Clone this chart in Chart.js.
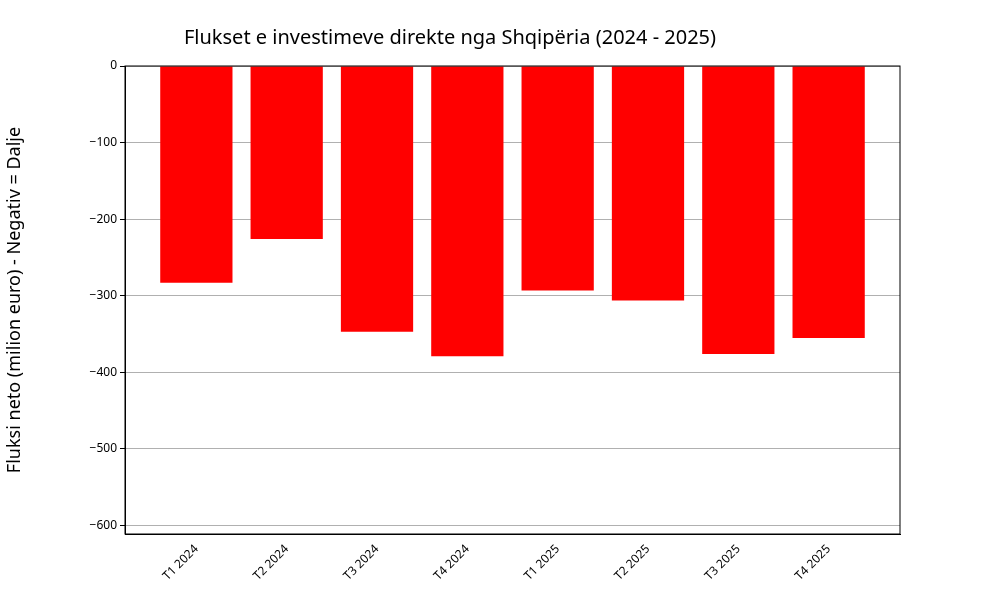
<!DOCTYPE html>
<html>
<head>
<meta charset="utf-8">
<script src="https://cdn.jsdelivr.net/npm/chart.js@4.4.0/dist/chart.umd.min.js"></script>
<style>
  body { margin: 0; background: #fff; }
</style>
</head>
<body>
<canvas id="fdiChart" width="1000" height="600"></canvas>
<script>
    const labels = ['T1 2024', 'T2 2024', 'T3 2024', 'T4 2024', 'T1 2025', 'T2 2025', 'T3 2025', 'T4 2025'];
    const values = [-283, -226, -347, -379, -293, -306, -376, -355];

    // Frame around the plot area (like the box in the original)
    const boxPlugin = {
        id: 'box',
        afterDraw(chart) {
            const { ctx, chartArea: a } = chart;
            ctx.save();
            ctx.strokeStyle = '#000';
            ctx.lineWidth = 1;
            ctx.strokeRect(a.left, a.top, a.right - a.left, a.bottom - a.top);
            ctx.restore();
        }
    };

    const font = 'Noto Sans';

    new Chart(document.getElementById('fdiChart').getContext('2d'), {
        type: 'bar',
        data: {
            datasets: [{
                data: values.map((v, i) => ({ x: i, y: v })),
                backgroundColor: '#ff0000',
                barPercentage: 0.8,
                categoryPercentage: 1.0
            }]
        },
        options: {
            responsive: false,
            animation: false,
            layout: { padding: { top: 0, right: 100, left: 0, bottom: 0 } },
            plugins: {
                legend: { display: false },
                tooltip: { enabled: false },
                title: {
                    display: true,
                    text: 'Flukset e investimeve direkte nga Shqipëria (2024 - 2025)',
                    color: '#000',
                    font: { family: font, size: 20, weight: 'normal' },
                    padding: { top: 26, bottom: 16 }
                }
            },
            scales: {
                x: {
                    type: 'linear',
                    min: -0.79,
                    max: 7.79,
                    offset: false,
                    grid: { display: false, drawTicks: true, tickLength: 5 },
                    border: { color: '#000' },
                    afterBuildTicks(axis) {
                        axis.ticks = labels.map((_, i) => ({ value: i }));
                    },
                    afterFit(axis) { axis.height = 66; },
                    ticks: {
                        color: '#000',
                        font: { family: font, size: 12 },
                        maxRotation: 45,
                        minRotation: 45,
                        callback: v => labels[v]
                    }
                },
                y: {
                    min: -611,
                    max: 0,
                    afterBuildTicks(axis) {
                        axis.ticks = [0, -100, -200, -300, -400, -500, -600].map(v => ({ value: v }));
                    },
                    afterFit(axis) { axis.width = 125; },
                    grid: { color: '#b0b0b0', tickLength: 5, tickColor: '#000' },
                    border: { color: '#000' },
                    ticks: {
                        color: '#000',
                        font: { family: font, size: 12 },
                        callback: v => v < 0 ? '\u2212' + Math.abs(v) : v
                    },
                    title: {
                        display: true,
                        text: 'Fluksi neto (milion euro) - Negativ = Dalje',
                        color: '#000',
                        font: { family: font, size: 18 },
                        padding: { bottom: 8 }
                    }
                }
            }
        },
        plugins: [boxPlugin]
    });
</script>
</body>
</html>
